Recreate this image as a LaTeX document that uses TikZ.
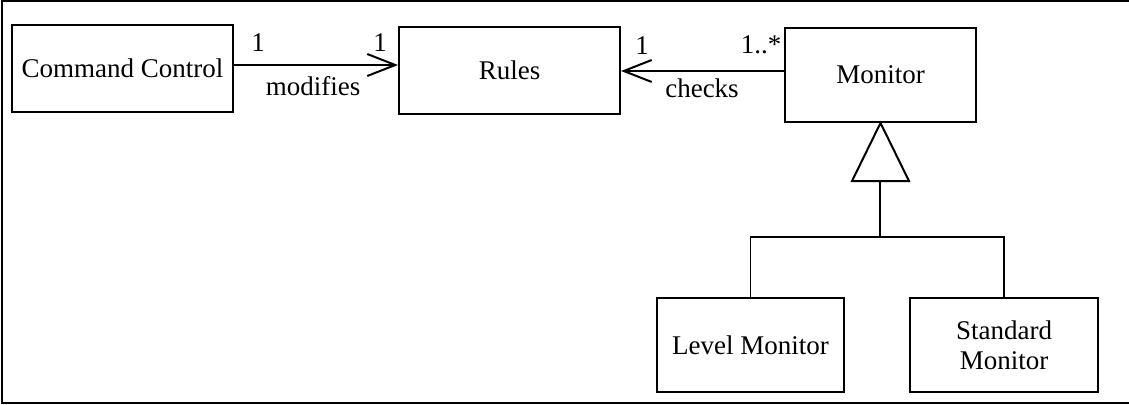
\documentclass[tikz,border=0pt]{standalone}
\usepackage{fontspec}
\setmainfont{Liberation Serif}
\usetikzlibrary{arrows.meta}
\begin{document}
\begin{tikzpicture}[x=1pt,y=-1pt,
  every node/.style={font=\fontsize{27}{30}\selectfont, inner sep=0pt},
  cls/.style={draw, line width=2pt, align=center},
  assoc/.style={line width=2pt, -{Straight Barb[length=28pt,width=22pt,line width=2pt]}},
  tree/.style={line width=1.2pt},
  lbl/.style={anchor=center}]
  \useasboundingbox (0,0) rectangle (1129,404);
  % outer frame (open on the right)
  \draw[line width=2pt] (1129,1) -- (2,1) -- (2,403) -- (1129,403);

  % classes
  \node[cls, minimum width=221, minimum height=87] (cc) at (122.5,68.5) {Command Control};
  \node[cls, minimum width=221, minimum height=87] (rules) at (509.5,70.5) {Rules};
  \node[cls, minimum width=191, minimum height=94] (mon) at (880.5,75) {Monitor};
  \node[cls, minimum width=187, minimum height=94] (lvl) at (750.5,345) {Level Monitor};
  \node[cls, minimum width=188, minimum height=94] (std) at (1004,345) {Standard\\Monitor};

  % associations
  \draw[assoc] (cc.east |- 0,65) -- (rules.west |- 0,65);
  \node[lbl] (m1) at (258,43) {1};
  \node[lbl] (m2) at (380,43) {1};
  \node[lbl] (mod) at (313,86) {modifies};

  \draw[assoc] (mon.west |- 0,71) -- (rules.east |- 0,71);
  \node[lbl] (m3) at (642,46) {1};
  \node[lbl] (m4) at (761,45) {1..*};
  \node[lbl] (chk) at (702,88) {checks};

  % generalization
  \coordinate (tb) at (880,181);
  \coordinate (jn) at (880,237);
  \draw[line width=2pt, line join=miter] (mon.south) -- (852,181) -- (909,181) -- cycle;
  \draw[tree] (tb) -- (jn);
  \draw[tree] (lvl.north) -- (lvl.north |- jn) -- (std.north |- jn) -- (std.north);
\end{tikzpicture}
\end{document}
